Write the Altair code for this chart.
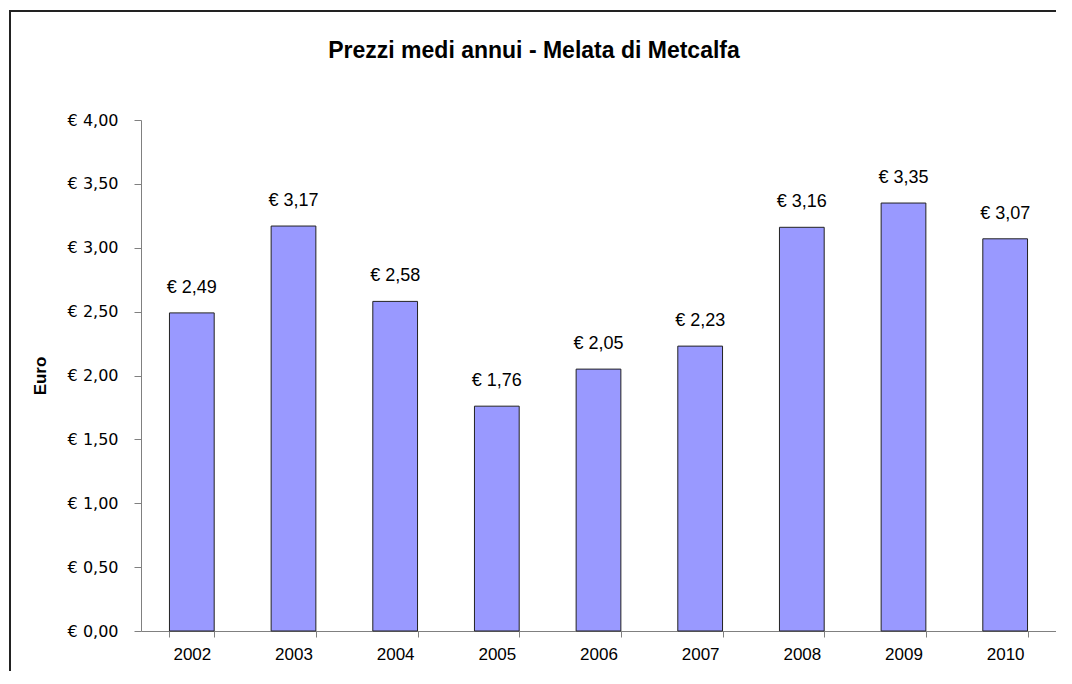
import altair as alt
import pandas as pd

years = ["2002", "2003", "2004", "2005", "2006", "2007", "2008", "2009", "2010"]
prices = [2.49, 3.17, 2.58, 1.76, 2.05, 2.23, 3.16, 3.35, 3.07]
y_ticks = [0, 0.5, 1.0, 1.5, 2.0, 2.5, 3.0, 3.5, 4.0]
title_text = "Prezzi medi annui - Melata di Metcalfa"

labels = ["€ " + f"{v:.2f}".replace(".", ",") for v in prices]
df = pd.DataFrame({"Anno": years, "Prezzo": prices, "Etichetta": labels})

W, H = 915, 511
FONT = "Liberation Sans"

x_enc = alt.X("Anno:N", sort=years,
              scale=alt.Scale(paddingInner=0.56, paddingOuter=0.28),
              axis=alt.Axis(title=None, labelAngle=0, tickBand="extent",
                            domainColor="#808080", tickColor="#808080",
                            tickSize=6, labelPadding=9, labelFont=FONT,
                            labelFontSize=17, labelColor="#000"))
y_enc = alt.Y("Prezzo:Q", scale=alt.Scale(domain=[0, 4]),
              axis=alt.Axis(title="Euro", values=y_ticks, grid=False,
                            labelExpr="'€ ' + replace(format(datum.value, '.2f'), '.', ',')",
                            domainColor="#808080", tickColor="#808080",
                            tickSize=7, labelPadding=16, labelFont="DejaVu Sans",
                            labelFontSize=16, labelColor="#000",
                            titleFont=FONT, titleFontSize=17, titleFontWeight="bold",
                            titleColor="#000", titleX=-101, titleY=H / 2,
                            titleBaseline="middle", titleAngle=270))

base = alt.Chart(df)
bars = base.mark_bar(fill="#9999FF", stroke="#222", strokeWidth=1).encode(x=x_enc, y=y_enc)
text = base.mark_text(font=FONT, fontSize=18, dy=-20, baseline="alphabetic",
                      color="#000").encode(
    x=alt.X("Anno:N", sort=years), y=alt.Y("Prezzo:Q"), text="Etichetta:N")

frame_df = pd.DataFrame({"k": [0]})
top_border = alt.Chart(frame_df).mark_rule(color="#222", strokeWidth=2).encode(
    x=alt.value(-131), x2=alt.value(W), y=alt.value(-109))
left_border = alt.Chart(frame_df).mark_rule(color="#222", strokeWidth=2).encode(
    x=alt.value(-131), y=alt.value(-110), y2=alt.value(H + 60))
title = alt.Chart(pd.DataFrame({"t": [title_text]})).mark_text(
    font=FONT, fontSize=23, fontWeight="bold", color="#000",
    align="center", baseline="alphabetic").encode(
    x=alt.value(393), y=alt.value(-62), text="t:N")

chart = alt.layer(bars, text, top_border, left_border, title).properties(
    width=W, height=H,
    background="white",
    autosize=alt.AutoSizeParams(type="none"),
    padding={"left": 133, "top": 112, "right": 0, "bottom": 40},
).configure_view(strokeWidth=0, strokeOpacity=0)

chart.save("out.html", embed_options={"renderer": "svg", "actions": False})
